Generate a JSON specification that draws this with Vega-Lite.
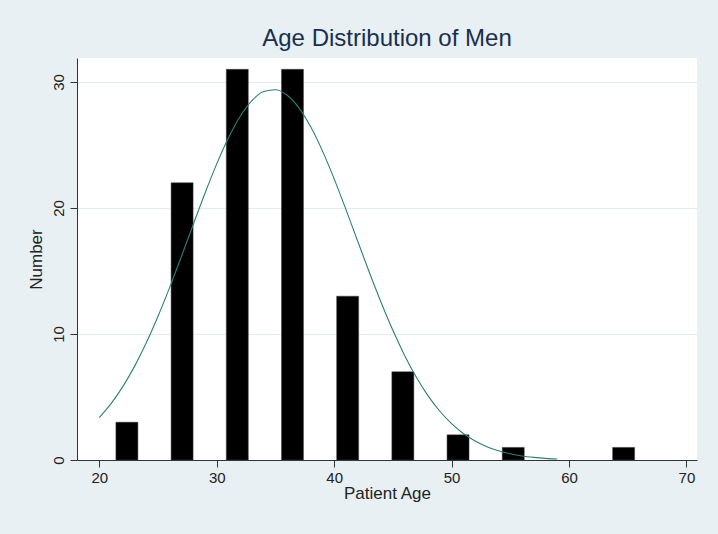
{
  "$schema": "https://vega.github.io/schema/vega-lite/v6.json",
  "autosize": "none",
  "width": 620,
  "height": 402,
  "padding": {"left": 77, "top": 58, "right": 21, "bottom": 74},
  "background": "#e8f0f3",
  "title": {
    "text": "Age Distribution of Men",
    "fontSize": 24,
    "font": "Liberation Sans, sans-serif",
    "fontWeight": "normal",
    "color": "#1a2f4f",
    "offset": 7
  },
  "config": {
    "view": {"fill": "white", "stroke": null},
    "font": "Liberation Sans, sans-serif",
    "axis": {
      "domainColor": "#333333",
      "tickColor": "#333333",
      "labelColor": "#222222",
      "titleColor": "#222222",
      "labelFontSize": 15,
      "titleFontSize": 17,
      "titleFontWeight": "normal",
      "tickSize": 7,
      "gridColor": "#e4ecef",
      "gridWidth": 1
    }
  },
  "datasets": {
    "bars": [
      {"age": 22.35, "count": 3},
      {"age": 27.05, "count": 22},
      {"age": 31.75, "count": 31},
      {"age": 36.45, "count": 31},
      {"age": 41.15, "count": 13},
      {"age": 45.85, "count": 7},
      {"age": 50.55, "count": 2},
      {"age": 55.25, "count": 1},
      {"age": 64.65, "count": 1}
    ],
    "curve": [
      {"age": 20, "n": 3.37}, {"age": 21, "n": 4.47}, {"age": 22, "n": 5.82},
      {"age": 23, "n": 7.43}, {"age": 24, "n": 9.30}, {"age": 25, "n": 11.41},
      {"age": 26, "n": 13.72}, {"age": 27, "n": 16.17}, {"age": 28, "n": 18.69},
      {"age": 29, "n": 21.17}, {"age": 30, "n": 23.50}, {"age": 31, "n": 25.57},
      {"age": 32, "n": 27.28}, {"age": 33, "n": 28.52}, {"age": 34, "n": 29.24},
      {"age": 35, "n": 29.38}, {"age": 36, "n": 28.94}, {"age": 37, "n": 27.94},
      {"age": 38, "n": 26.44}, {"age": 39, "n": 24.53}, {"age": 40, "n": 22.31},
      {"age": 41, "n": 19.89}, {"age": 42, "n": 17.38}, {"age": 43, "n": 14.88},
      {"age": 44, "n": 12.50}, {"age": 45, "n": 10.29}, {"age": 46, "n": 8.30},
      {"age": 47, "n": 6.56}, {"age": 48, "n": 5.09}, {"age": 49, "n": 3.87},
      {"age": 50, "n": 2.88}, {"age": 51, "n": 2.10}, {"age": 52, "n": 1.51},
      {"age": 53, "n": 1.06}, {"age": 54, "n": 0.73}, {"age": 55, "n": 0.49},
      {"age": 56, "n": 0.32}, {"age": 57, "n": 0.21}, {"age": 58, "n": 0.13},
      {"age": 59, "n": 0.08}
    ]
  },
  "layer": [
    {
      "data": {"name": "bars"},
      "mark": {"type": "bar", "color": "black", "width": 22, "stroke": "#444444", "strokeWidth": 0.5},
      "encoding": {
        "x": {
          "field": "age", "type": "quantitative",
          "scale": {"domain": [18.1, 70.9], "nice": false, "zero": false, "padding": 0},
          "axis": {"values": [20, 30, 40, 50, 60, 70], "title": "Patient Age", "grid": false, "titlePadding": 0, "labelPadding": 3}
        },
        "y": {
          "field": "count", "type": "quantitative",
          "scale": {"domain": [0, 31.9], "nice": false},
          "axis": {"values": [0, 10, 20, 30], "title": "Number", "grid": true, "labelAngle": -90, "labelAlign": "center", "labelBaseline": "bottom", "labelPadding": 4, "titlePadding": 6}
        }
      }
    },
    {
      "data": {"name": "curve"},
      "mark": {"type": "line", "color": "#2f7f78", "strokeWidth": 1.1, "interpolate": "monotone"},
      "encoding": {
        "x": {"field": "age", "type": "quantitative"},
        "y": {"field": "n", "type": "quantitative"}
      }
    }
  ]
}
